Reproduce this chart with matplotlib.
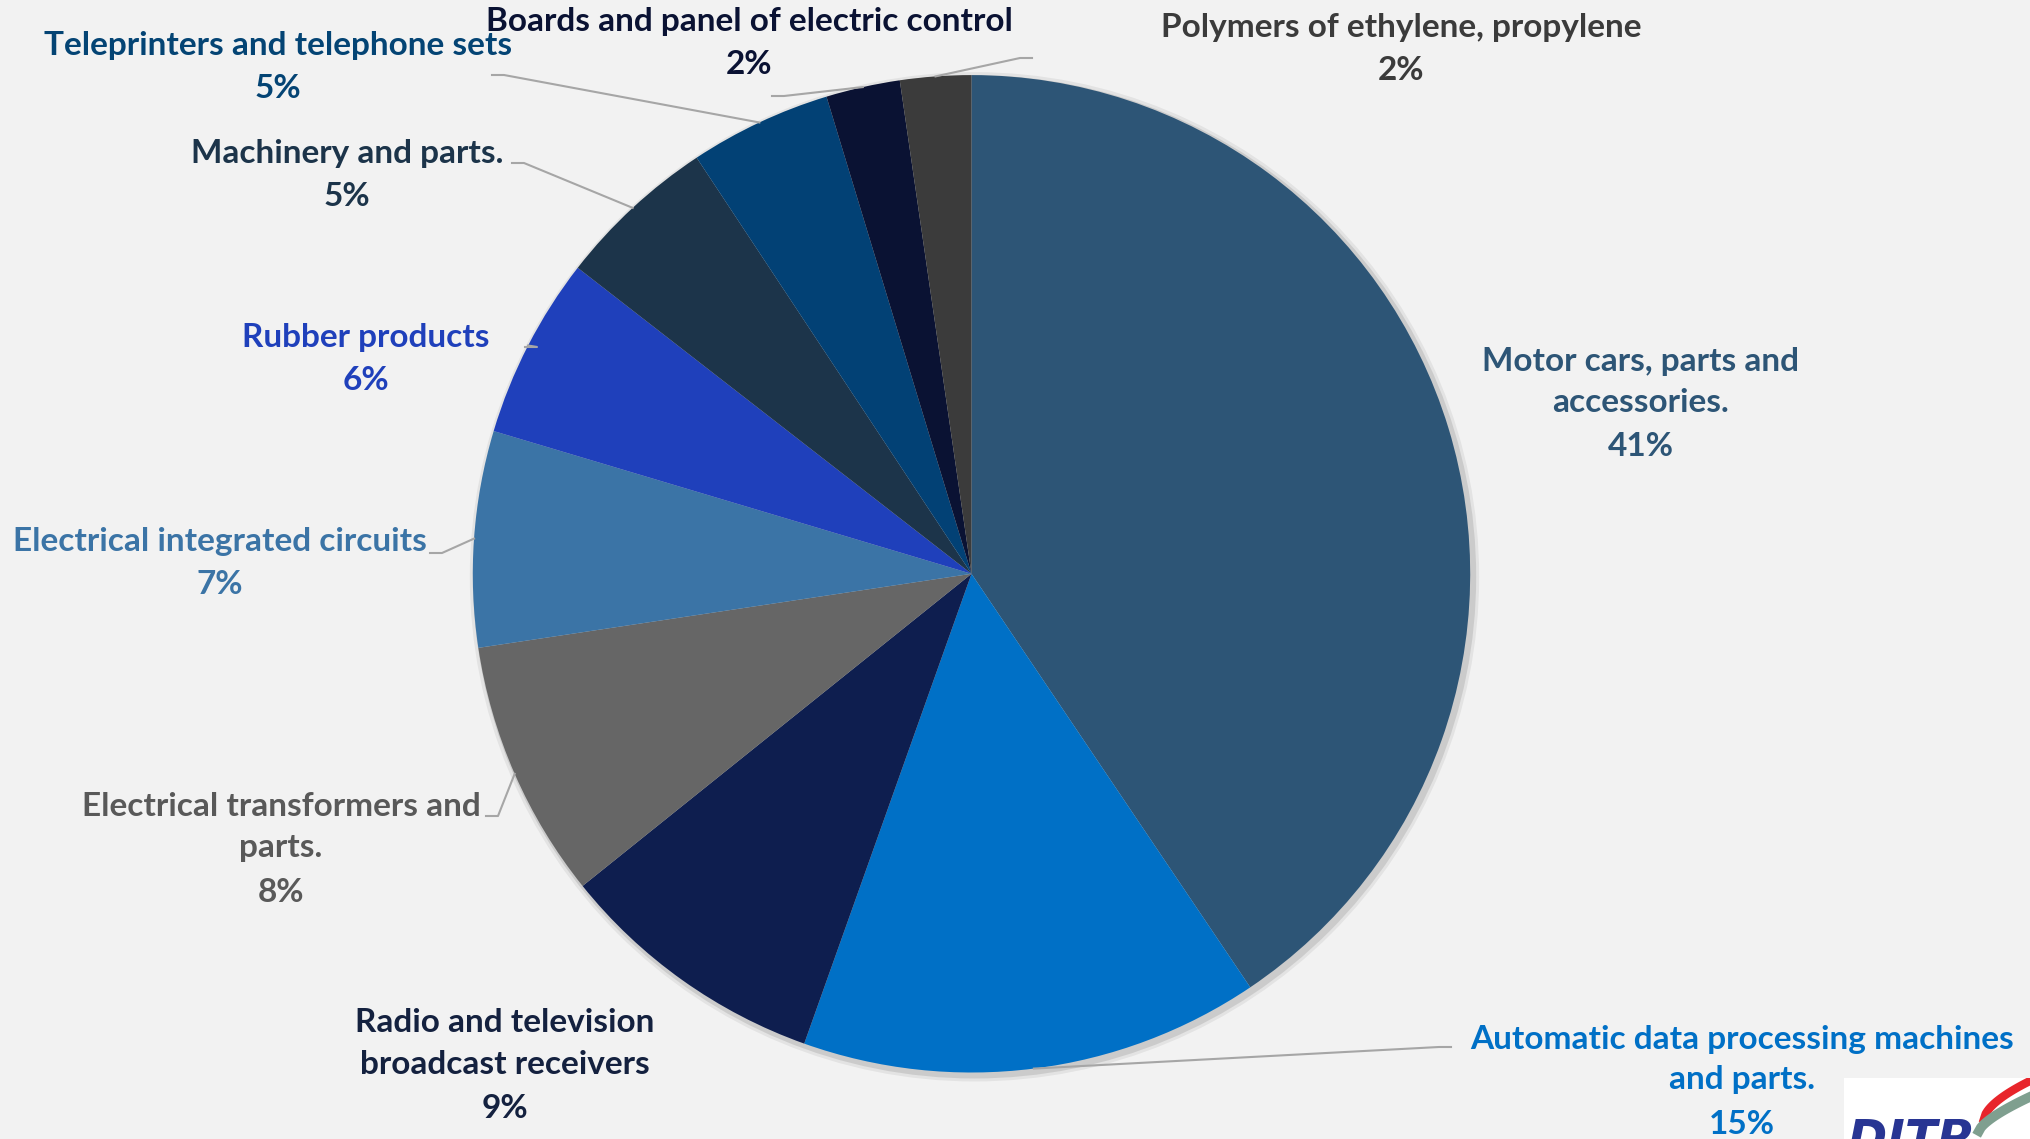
import numpy as np
import matplotlib
matplotlib.use("Agg")
import matplotlib.pyplot as plt
from matplotlib.patches import Circle

# shares (percent)
categories = [
    "Motor cars, parts and\naccessories.",
    "Automatic data processing machines\nand parts.",
    "Radio and television\nbroadcast receivers",
    "Electrical transformers and\nparts.",
    "Electrical integrated circuits",
    "Rubber products",
    "Machinery and parts.",
    "Teleprinters and telephone sets",
    "Boards and panel of electric control",
    "Polymers of ethylene, propylene",
]
values = [40.6, 14.9, 8.8, 8.4, 7.0, 5.9, 5.2, 4.6, 2.4, 2.3]

colors = ["#2D5576", "#0070C6", "#0E1E4F", "#666666", "#3B74A6",
          "#1F40BB", "#1C344A", "#024175", "#0A1233", "#3B3B3B"]
label_colors = ["#2D5576", "#0070C6", "#14213F", "#595959", "#3B74A6",
                "#1F40BB", "#1C344A", "#044474", "#0A1233", "#3B3B3B"]

# label centre x and first-line y, in pixels from top-left
label_pos = [(1641, 360), (1742, 1038), (505, 1022), (281, 806), (220, 541),
             (366, 338), (347, 153), (278, 45), (749, 22), (1401, 27)]
# leader start (pixels), None = no leader
leader_pos = [None, (1451, 1047), None, (486, 816), (430, 553),
              (525, 347), (512, 163), (492, 75), (772, 96), (1032, 58)]

W, H = 2031, 1139
cx, cy, R = 971.5, 573.8, 498.7
line_h = 43


def px(x, y):
    return (x - cx) / R, (cy - y) / R


plt.rcParams['font.family'] = ['Lato', 'DejaVu Sans']
fig = plt.figure(figsize=(W / 100, H / 100), dpi=100)
fig.patch.set_facecolor("#F2F2F2")
ax = fig.add_axes([0, 0, 1, 1])
ax.set_facecolor("#F2F2F2")

# soft shadow under the pie
for r, a in [(1.012, 0.06), (1.006, 0.10)]:
    ax.add_patch(Circle((0.006, -0.006), r, color="black", alpha=a, lw=0, zorder=0))

wedges, _ = ax.pie(values, colors=colors, startangle=90, counterclock=False,
                   radius=1, center=(0, 0), wedgeprops=dict(linewidth=0))
ax.set_aspect("auto")
ax.set_xlim(-cx / R, (W - cx) / R)
ax.set_ylim(-(H - cy) / R, cy / R)
ax.axis("off")

total = sum(values)
for i, w in enumerate(wedges):
    pct = round(values[i] / total * 100)
    x0, y0 = label_pos[i]
    n = categories[i].count("\n") + 1
    tx, ty = px(x0, y0 + (n - 1) * line_h / 2)
    ax.text(tx, ty, categories[i], ha="center", va="center", fontsize=24,
            fontweight="bold", color=label_colors[i], linespacing=1.5)
    tx, ty = px(x0, y0 + n * line_h)
    ax.text(tx, ty, f"{pct:.0f}%", ha="center", va="center", fontsize=24,
            fontweight="bold", color=label_colors[i])
    if leader_pos[i] is not None:
        mid = np.deg2rad((w.theta1 + w.theta2) / 2)
        ex, ey = np.cos(mid), np.sin(mid)
        sx, sy = px(*leader_pos[i])
        step = 12 / R if sx < ex else -12 / R
        ax.plot([sx, sx + step, ex], [sy, sy, ey], color="#A6A6A6", lw=1.5,
                zorder=3)

# logo corner
lax = fig.add_axes([1844 / W, 0, (W - 1844) / W, 61 / H])
lax.set_xlim(0, W - 1844)
lax.set_ylim(0, 61)
lax.set_facecolor("white")
lax.set_xticks([])
lax.set_yticks([])
for s in lax.spines.values():
    s.set_visible(False)
lax.text(4, 21, "DITP", ha="left", va="top", fontsize=34, fontweight="bold",
         fontstyle="italic", color="#283593", family="DejaVu Sans", clip_on=True)
t = np.linspace(0, 1, 30)
lax.plot(140 + 50 * t, 20 + 40 * t ** 0.6, color="#E8252B", lw=6, clip_on=True)
lax.plot(135 + 55 * t, 8 + 36 * t ** 0.7, color="#7F9F8F", lw=7, clip_on=True)

fig.savefig("out.png", dpi=100, facecolor=fig.get_facecolor())
